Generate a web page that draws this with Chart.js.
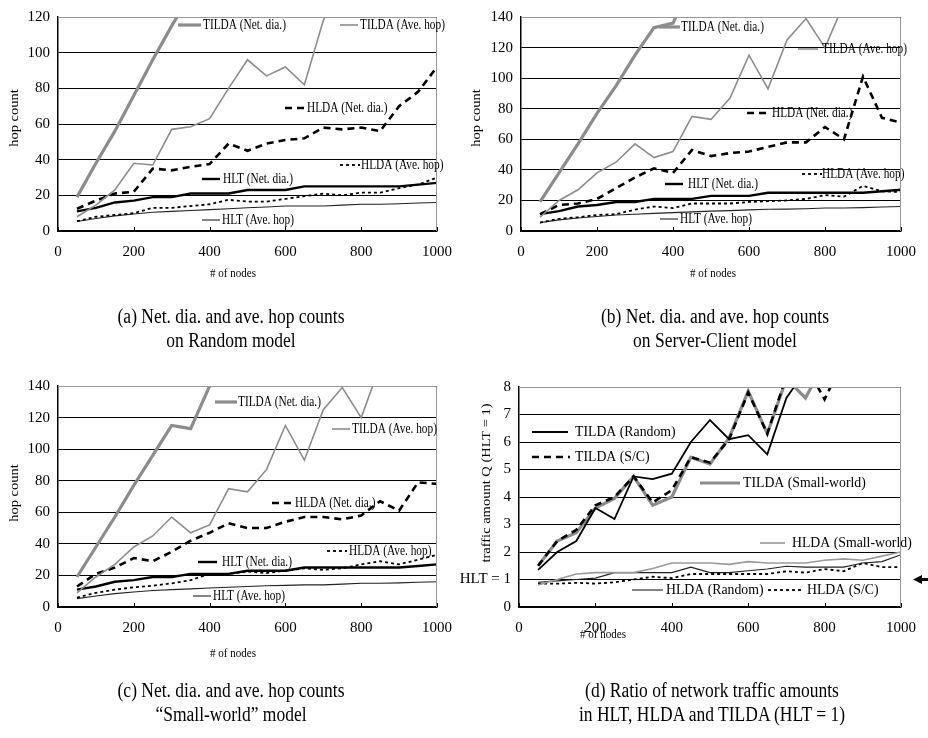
<!DOCTYPE html>
<html>
<head>
<meta charset="utf-8">
<script src="https://cdn.jsdelivr.net/npm/chart.js@4.4.1/dist/chart.umd.min.js"></script>
<style>
  body { margin: 0; background: #fff; width: 928px; height: 738px; position: relative; overflow: hidden; }
  canvas { position: absolute; }
  .cap { position: absolute; font-family: 'Liberation Serif', 'Times New Roman', serif; font-size: 20px; color: #000;
         white-space: nowrap; transform: translate(-50%, -50%) scaleX(0.875); }
</style>
</head>
<body>
<canvas id="ca" width="464" height="369" style="left:0;top:0"></canvas>
<canvas id="cb" width="464" height="369" style="left:464px;top:0"></canvas>
<canvas id="cc" width="464" height="369" style="left:0;top:369px"></canvas>
<canvas id="cd" width="468" height="369" style="left:460px;top:369px"></canvas>

<div class="cap" style="left:231px;top:316px">(a) Net. dia. and ave. hop counts</div>
<div class="cap" style="left:231px;top:340px">on Random model</div>
<div class="cap" style="left:715px;top:316px">(b) Net. dia. and ave. hop counts</div>
<div class="cap" style="left:715px;top:340px">on Server-Client model</div>
<div class="cap" style="left:231px;top:690px">(c) Net. dia. and ave. hop counts</div>
<div class="cap" style="left:231px;top:714px">&ldquo;Small-world&rdquo; model</div>
<div class="cap" style="left:712px;top:690px">(d) Ratio of network traffic amounts</div>
<div class="cap" style="left:712px;top:714px">in HLT, HLDA and TILDA (HLT = 1)</div>

<script>
// number of nodes (x values) and axis ticks
const nodes = [50, 100, 150, 200, 250, 300, 350, 400, 450, 500, 550, 600, 650, 700, 750, 800, 850, 900, 950, 1000];
const xTicks = [0, 200, 400, 600, 800, 1000];
const hopTicksA = [0, 20, 40, 60, 80, 100, 120];
const hopTicksBC = [0, 20, 40, 60, 80, 100, 120, 140];
const ratioTicks = [0, 1, 2, 3, 4, 5, 6, 7, 8];

// (a) Random model
const randTildaDia = [19, 38, 56, 76, 96, 115, 133, 150, 170, 188, 207, 225, 246, 262, 283, 301, 322, 340, 358, 379];
const randTildaHop = [8, 14.5, 23, 38, 37, 57, 58.5, 63, 80, 96, 87, 92, 82, 118, 142, 155, 163, 178, 186, 197];
const randHldaDia = [12.5, 17, 21, 22, 35, 34, 36, 37.5, 49, 45, 49, 51, 52, 58, 57, 58, 56, 70, 78, 92];
const randHldaHop = [5.5, 8, 9, 10, 13, 13, 14, 15, 17.5, 16.5, 16.5, 18, 19.5, 21, 20, 21.5, 21.5, 24, 26, 30];
const randHltDia = [11, 13, 16, 17, 19, 19, 21, 21, 21, 23, 23, 23, 25, 25, 25, 25, 25, 25, 26, 27];
const randHltHop = [5.3, 7, 8.5, 9.5, 10.5, 11, 11.5, 12, 12.5, 13, 13.5, 14, 14, 14, 14.5, 15, 15, 15.3, 15.7, 16];

// (b) Server-Client model
const scTildaDia = [19, 38, 57, 77, 95, 115, 133, 136, 162, 181, 197, 218, 236, 255, 271, 292, 310, 327, 348, 365];
const scTildaHop = [9, 20, 27, 38, 45, 57, 48, 52, 75, 73, 87, 115, 93, 125, 139, 120, 149, 170, 182, 190];
const scHldaDia = [11, 17, 18, 21, 28, 35, 41, 38, 53, 49, 51, 52, 55, 58, 58, 68, 60, 101, 74, 71];
const scHldaHop = [5.5, 8, 9, 10.5, 11, 14, 16, 15, 18, 18, 18, 19, 19.5, 20, 21, 23.5, 22.5, 29.5, 26, 25.5];
const scHltDia = [11, 13, 16, 17, 19, 19, 21, 21, 21, 23, 23, 23, 25, 25, 25, 25, 25, 25, 26, 27];
const scHltHop = [5.5, 7.3, 8.5, 9.5, 10.5, 11, 11.5, 12, 12.5, 13, 13.3, 13.8, 14.2, 14.3, 14.6, 15, 15, 15.3, 15.7, 16];

// (c) Small-world model
const swTildaDia = [19, 38, 57, 77, 96, 115, 113, 140, 166, 184, 203, 221, 240, 258, 277, 296, 314, 333, 351, 370];
const swTildaHop = [9, 19, 27, 38, 45, 57, 47, 52, 75, 73, 87, 115, 93, 125, 139, 120, 153, 163, 175, 188];
const swHldaDia = [13, 21, 25, 31, 29, 35, 42, 47, 53, 50, 50, 54, 57, 57, 55.5, 58, 67, 61, 79, 78];
const swHldaHop = [6, 9, 11, 12.5, 13.5, 15, 17, 21, 21, 22.5, 21.5, 23, 24.5, 23.5, 24.5, 27, 29, 27, 30, 33];
const swHltDia = [11, 13, 16, 17, 19, 19, 21, 21, 21, 23, 23, 23, 25, 25, 25, 25, 25, 25, 26, 27];
const swHltHop = [5.3, 7, 8.5, 9.5, 10.5, 11, 11.5, 12, 12.5, 13, 13.5, 13.7, 14, 14, 14.5, 15, 15, 15.3, 15.7, 16];

// (d) traffic ratio, HLT = 1
const qTildaRandom = [1.35, 2.0, 2.4, 3.6, 3.2, 4.75, 4.65, 4.85, 6.0, 6.8, 6.1, 6.25, 5.55, 7.6, 8.6, 9.1, 9.8, 10.2, 10.9, 11.5];
const qTildaSC = [1.5, 2.4, 2.8, 3.7, 4.0, 4.75, 3.8, 4.25, 5.45, 5.25, 6.1, 7.8, 6.3, 8.4, 8.8, 7.55, 9.0, 9.6, 10.1, 10.8];
const qTildaSW = [1.5, 2.4, 2.7, 3.6, 3.95, 4.75, 3.7, 4.0, 5.45, 5.2, 6.15, 7.85, 6.3, 8.3, 7.6, 8.9, 9.3, 9.9, 10.4, 11];
const qHldaSW = [0.8, 1.0, 1.2, 1.25, 1.25, 1.25, 1.4, 1.6, 1.6, 1.6, 1.55, 1.65, 1.6, 1.6, 1.6, 1.7, 1.75, 1.7, 1.85, 2.0];
const qHldaRandom = [0.9, 0.95, 1.0, 1.05, 1.25, 1.25, 1.25, 1.25, 1.45, 1.25, 1.25, 1.32, 1.38, 1.48, 1.45, 1.45, 1.45, 1.6, 1.65, 1.9];
const qHldaSC = [0.85, 0.85, 0.88, 0.85, 0.9, 1.0, 1.1, 1.05, 1.2, 1.2, 1.2, 1.2, 1.2, 1.3, 1.25, 1.38, 1.3, 1.6, 1.45, 1.45];

const serif = "'Liberation Serif', 'Times New Roman', serif";
const gray = '#8c8c8c';

// line looks
const st = {
  thickGray: { borderColor: gray, borderWidth: 3.2 },
  thinGray: { borderColor: gray, borderWidth: 1.6 },
  lightGray: { borderColor: '#9a9a9a', borderWidth: 1.6 },
  thickDash: { borderColor: '#000', borderWidth: 2.6, borderDash: [7, 5] },
  dotted: { borderColor: '#000', borderWidth: 1.8, borderDash: [3, 3] },
  thickBlack: { borderColor: '#000', borderWidth: 2.4 },
  midBlack: { borderColor: '#000', borderWidth: 1.8 },
  thinBlack: { borderColor: '#222', borderWidth: 1.1 }
};

function pts(ys) {
  return nodes.map((x, i) => ({ x: x, y: ys[i] }));
}

function txt(ctx, s, x, y, size, sx, align, rot) {
  ctx.save();
  ctx.translate(x, y);
  if (rot) ctx.rotate(-Math.PI / 2);
  ctx.scale(rot ? 1 : sx, rot ? sx : 1);
  ctx.font = size + 'px ' + serif;
  ctx.fillStyle = '#000';
  ctx.textAlign = align || 'left';
  ctx.textBaseline = 'middle';
  ctx.fillText(s, 0, 0);
  ctx.restore();
}

const extras = {
  id: 'extras',
  afterDraw(chart, args, o) {
    const ctx = chart.ctx;
    const a = chart.chartArea;
    const xs = chart.scales.x;
    ctx.save();
    // gray frame on top and right
    ctx.strokeStyle = '#999';
    ctx.lineWidth = 1;
    ctx.setLineDash([]);
    ctx.beginPath();
    ctx.moveTo(a.left, a.top + 0.5);
    ctx.lineTo(a.right - 0.5, a.top + 0.5);
    ctx.lineTo(a.right - 0.5, a.bottom);
    ctx.stroke();
    // small inner ticks on x axis
    ctx.strokeStyle = '#000';
    xTicks.forEach(v => {
      const px = Math.round(xs.getPixelForValue(v)) + 0.5;
      ctx.beginPath();
      ctx.moveTo(px, a.bottom);
      ctx.lineTo(px, a.bottom - 4);
      ctx.stroke();
    });
    // in-plot labels
    o.items.forEach(it => {
      const ds = chart.data.datasets[it[0]];
      ctx.save();
      ctx.strokeStyle = ds.borderColor;
      ctx.lineWidth = ds.borderWidth;
      ctx.setLineDash(ds.borderDash || []);
      ctx.beginPath();
      ctx.moveTo(it[1], it[3]);
      ctx.lineTo(it[2], it[3]);
      ctx.stroke();
      ctx.restore();
      txt(ctx, ds.label, it[4], it[3], o.fontSize, o.fontScale);
    });
    // axis titles
    txt(ctx, o.yTitle, o.yTitleX, o.yTitleY, 14.5, 0.9, 'center', true);
    txt(ctx, '# of nodes', o.xTitleX, o.xTitleY, 13, 0.85, 'center');
    if (o.hltMark) {
      // arrow pointing at the HLT = 1 line
      const py = chart.scales.y.getPixelForValue(1);
      ctx.fillStyle = '#000';
      ctx.fillRect(460, py - 1.5, 8, 3);
      ctx.beginPath();
      ctx.moveTo(453, py);
      ctx.lineTo(462, py - 4.5);
      ctx.lineTo(462, py + 4.5);
      ctx.closePath();
      ctx.fill();
    }
    ctx.restore();
  }
};

function buildChart(id, series, yMax, yTicks, yW, pad, ex, yLabel) {
  const tickFont = { family: serif, size: 15 };
  return new Chart(document.getElementById(id), {
    type: 'line',
    data: {
      datasets: series.map(s => Object.assign({ label: s[0], data: pts(s[1]) }, s[2]))
    },
    options: {
      responsive: false,
      animation: false,
      layout: { padding: pad },
      elements: { point: { radius: 0 }, line: { tension: 0, fill: false } },
      plugins: { legend: { display: false }, tooltip: { enabled: false }, extras: ex },
      scales: {
        x: {
          type: 'linear', min: 0, max: 1000,
          afterBuildTicks: s => { s.ticks = xTicks.map(v => ({ value: v })); },
          afterFit: s => { s.height = 30; },
          ticks: { font: tickFont, color: '#000', padding: 12, maxRotation: 0, autoSkip: false,
                   callback: v => String(v) },
          grid: { display: false, drawTicks: false },
          border: { color: '#000', width: 1.5 }
        },
        y: {
          min: 0, max: yMax,
          afterBuildTicks: s => { s.ticks = yTicks.map(v => ({ value: v })); },
          afterFit: s => { s.width = yW; },
          ticks: { font: tickFont, color: '#000', padding: 8, callback: yLabel || (v => String(v)) },
          grid: { color: '#000', lineWidth: 1, drawTicks: false },
          border: { color: '#000', width: 1.5 }
        }
      }
    },
    plugins: [extras]
  });
}

function hopSeries(td, th, hd, hh, ld, lh) {
  return [
    ['TILDA (Net. dia.)', td, st.thickGray],
    ['TILDA (Ave. hop)', th, st.thinGray],
    ['HLDA (Net. dia.)', hd, st.thickDash],
    ['HLDA (Ave. hop)', hh, st.dotted],
    ['HLT (Net. dia.)', ld, st.thickBlack],
    ['HLT (Ave. hop)', lh, st.thinBlack]
  ];
}

buildChart('ca', hopSeries(randTildaDia, randTildaHop, randHldaDia, randHldaHop, randHltDia, randHltHop),
  120, hopTicksA, 58, { left: 0, top: 8, right: 15, bottom: 108 }, {
    fontSize: 14.5, fontScale: 0.78,
    items: [[0, 178, 201, 25, 203], [1, 340, 358, 25, 360], [2, 285, 305, 108, 307],
            [3, 340, 360, 165, 361], [4, 202, 220, 179, 223], [5, 202, 220, 220, 222]],
    yTitle: 'hop count', yTitleX: 15, yTitleY: 118, xTitleX: 233, xTitleY: 274
  });

buildChart('cb', hopSeries(scTildaDia, scTildaHop, scHldaDia, scHldaHop, scHltDia, scHltHop),
  140, hopTicksBC, 57, { left: 0, top: 8, right: 16, bottom: 108 }, {
    fontSize: 14.5, fontScale: 0.78,
    items: [[0, 195, 216, 27, 217], [1, 334, 354, 49, 358], [2, 283, 306, 113, 308],
            [3, 338, 358, 174, 358], [4, 201, 219, 184, 224], [5, 196, 214, 219, 216]],
    yTitle: 'hop count', yTitleX: 13, yTitleY: 118, xTitleX: 249, xTitleY: 274
  });

buildChart('cc', hopSeries(swTildaDia, swTildaHop, swHldaDia, swHldaHop, swHltDia, swHltHop),
  140, hopTicksBC, 58, { left: 0, top: 14, right: 14, bottom: 101 }, {
    fontSize: 14.5, fontScale: 0.78,
    items: [[0, 215, 237, 33, 238], [1, 332, 350, 60, 352], [2, 272, 292, 134, 295],
            [3, 327, 347, 182, 349], [4, 198, 217, 193, 222], [5, 193, 211, 227, 213]],
    yTitle: 'hop count', yTitleX: 15, yTitleY: 124, xTitleX: 233, xTitleY: 285
  });

buildChart('cd', [
    ['TILDA (Random)', qTildaRandom, st.midBlack],
    ['TILDA (S/C)', qTildaSC, st.thickDash],
    ['TILDA (Small-world)', qTildaSW, st.thickGray],
    ['HLDA (Small-world)', qHldaSW, st.lightGray],
    ['HLDA (Random)', qHldaRandom, st.thinBlack],
    ['HLDA (S/C)', qHldaSC, st.dotted]
  ], 8, ratioTicks, 59, { left: 0, top: 18, right: 16, bottom: 101 }, {
    fontSize: 14.5, fontScale: 0.95,
    items: [[0, 72, 108, 63, 115], [1, 72, 110, 88, 115], [2, 240, 280, 114, 283],
            [3, 300, 325, 174, 332], [4, 172, 203, 221, 206], [5, 308, 343, 221, 347]],
    yTitle: 'traffic amount Q (HLT = 1)', yTitleX: 27, yTitleY: 114, xTitleX: 143, xTitleY: 266,
    hltMark: true
  }, v => (v === 1 ? 'HLT = 1' : String(v)));
</script>
</body>
</html>
